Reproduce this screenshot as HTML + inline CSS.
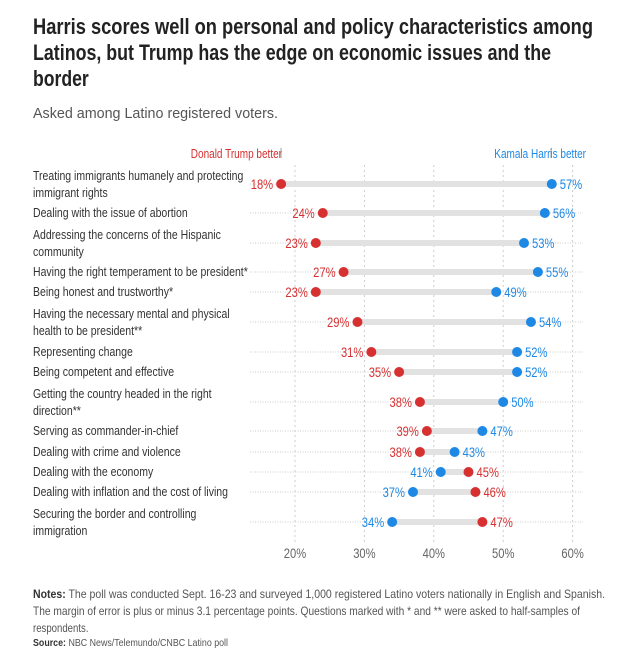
<!DOCTYPE html>
<html><head><meta charset="utf-8"><style>
body{margin:0;background:#fff;}
svg{display:block;font-family:"Liberation Sans Narrow","Liberation Sans",sans-serif;}
</style></head><body>
<svg id="c" width="637" height="666" viewBox="0 0 637 666">
<g font-size="22" font-weight="bold" fill="#222">
<text x="33" y="34" textLength="560" lengthAdjust="spacingAndGlyphs">Harris scores well on personal and policy characteristics among</text>
<text x="33" y="60" textLength="518" lengthAdjust="spacingAndGlyphs">Latinos, but Trump has the edge on economic issues and the</text>
<text x="33" y="86">border</text>
</g>
<text x="33" y="118" font-size="15" fill="#555" textLength="245" lengthAdjust="spacingAndGlyphs">Asked among Latino registered voters.</text>
<g id="grid"></g><g id="rows"></g><g id="ticks"></g>
<text x="282" y="158" font-size="12.5" fill="#d63031" text-anchor="end">Donald Trump better</text>
<line x1="281" y1="148" x2="281" y2="158" stroke="#888" stroke-width="0.8"/>
<text x="586" y="158" font-size="12.5" fill="#1e88e5" text-anchor="end">Kamala Harris better</text>
<line x1="551" y1="148" x2="551" y2="158" stroke="#888" stroke-width="0.8"/>
<g font-size="12" fill="#555">
<text x="33" y="598" textLength="572" lengthAdjust="spacingAndGlyphs"><tspan font-weight="bold" fill="#333">Notes:</tspan> The poll was conducted Sept. 16-23 and surveyed 1,000 registered Latino voters nationally in English and Spanish.</text>
<text x="33" y="615" textLength="547" lengthAdjust="spacingAndGlyphs">The margin of error is plus or minus 3.1 percentage points. Questions marked with * and ** were asked to half-samples of</text>
<text x="33" y="632">respondents.</text>
</g>
<text x="33" y="646" font-size="10.5" fill="#555" textLength="195" lengthAdjust="spacingAndGlyphs"><tspan font-weight="bold" fill="#333">Source:</tspan> NBC News/Telemundo/CNBC Latino poll</text>
</svg>
<script>
const categories=[["Treating immigrants humanely and protecting","immigrant rights"],["Dealing with the issue of abortion"],["Addressing the concerns of the Hispanic","community"],["Having the right temperament to be president*"],["Being honest and trustworthy*"],["Having the necessary mental and physical","health to be president**"],["Representing change"],["Being competent and effective"],["Getting the country headed in the right","direction**"],["Serving as commander-in-chief"],["Dealing with crime and violence"],["Dealing with the economy"],["Dealing with inflation and the cost of living"],["Securing the border and controlling","immigration"]];
const trump=[18,24,23,27,23,29,31,35,38,39,38,45,46,47];
const harris=[57,56,53,55,49,54,52,52,50,47,43,41,37,34];
const tickValues=[20,30,40,50,60];
const tickLabels=["20%","30%","40%","50%","60%"];
const rowY=[184,213,243,272,292,322,352,372,402,431,452,472,492,522];
const NS="http://www.w3.org/2000/svg";
function x(v){return 295+(v-20)*6.94;}
function mk(p,t,a){const e=document.createElementNS(NS,t);for(const k in a)e.setAttribute(k,a[k]);p.appendChild(e);return e;}
const grid=document.getElementById('grid'),rows=document.getElementById('rows'),ticks=document.getElementById('ticks');
tickValues.forEach((v,i)=>{
 const l=mk(grid,'line',{x1:x(v),x2:x(v),y1:165,y2:545,stroke:'#ccc','stroke-dasharray':'2,3','stroke-width':1});
 
 
 const t=mk(ticks,'text',{x:x(v),y:558,'font-size':14,fill:'#666','text-anchor':'middle'});
 t.textContent=tickLabels[i];
 
 
});
categories.forEach((c,i)=>{
 const y=rowY[i];
 const g=mk(rows,'g',{});
 
 
 mk(g,'line',{x1:250,x2:583,y1:y,y2:y,stroke:'#ddd','stroke-dasharray':'1,1.5','stroke-width':1.5});
 if(c.length==1){
  const lab=mk(g,'text',{x:33,y:y+4,'font-size':12.5,fill:'#333',class:'rl'});lab.textContent=c[0];
  
  
 } else {
  c.forEach((s,j)=>{
   const lab=mk(g,'text',{x:33,y:j?y+13:y-4,'font-size':12.5,fill:'#333',class:'rl'});lab.textContent=s;
   
   
  });
 }
 const a=Math.min(trump[i],harris[i]),b=Math.max(trump[i],harris[i]);
 const bar=mk(g,'line',{x1:x(a),x2:x(b),y1:y,y2:y,stroke:'#e2e2e2','stroke-width':6});
 
 
 [[trump[i],'#d63031','trump'],[harris[i],'#1e88e5','harris']].forEach(([v,col,n])=>{
  const other=n=='trump'?harris[i]:trump[i];
  const left=v<other;
  const d=mk(g,'circle',{cx:x(v),cy:y,r:5,fill:col});
  
  
  const t=mk(g,'text',{x:left?x(v)-8:x(v)+8,y:y+5,'font-size':14,fill:col,'text-anchor':left?'end':'start'});
  t.textContent=v+'%';
  
  
 });
});
// condense text (narrow font fallback)
document.querySelectorAll('svg text').forEach(t=>{
 if(t.hasAttribute('textLength'))return;
 const w=t.getComputedTextLength();
 const f=t.classList.contains('rl')?0.84:0.8;
 t.setAttribute('textLength',(w*f).toFixed(1));
 t.setAttribute('lengthAdjust','spacingAndGlyphs');
});
</script>
</body></html>
